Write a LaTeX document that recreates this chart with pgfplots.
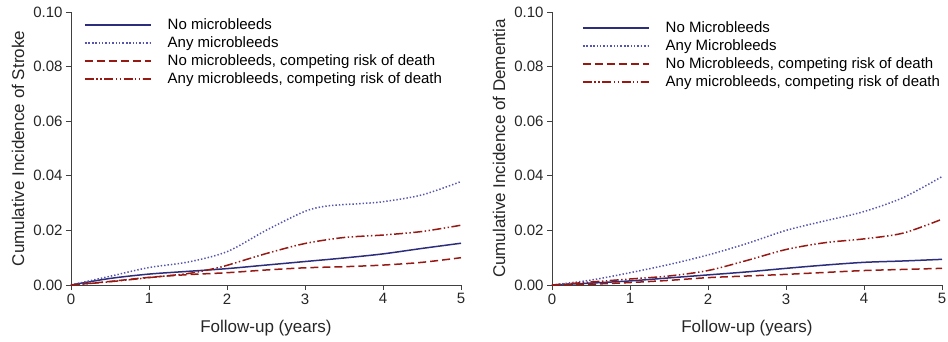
\documentclass[border=0pt]{standalone}
\usepackage{pgfplots}
\pgfplotsset{compat=1.18}
\usepackage{fontspec}
\setmainfont{Liberation Sans}
\definecolor{navy}{RGB}{45,45,125}
\definecolor{lblue}{RGB}{85,85,175}
\definecolor{dred}{RGB}{150,25,20}
\pgfplotsset{
  mystyle/.style={
    scale only axis, width=390pt, height=273pt,
    anchor=south west,
    xmin=0, xmax=5, ymin=0, ymax=0.1,
    axis x line=bottom, axis y line=left,
    axis line style={-, draw=black!75, line width=0.8pt},
    tick style={draw=black!75, line width=0.8pt},
    tick align=outside, major tick length=5pt,
    xtick={0,1,2,3,4,5},
    ytick={0,0.02,0.04,0.06,0.08,0.1},
    yticklabel style={/pgf/number format/fixed, /pgf/number format/fixed zerofill, /pgf/number format/precision=2},
    scaled y ticks=false,
    /pgf/number format/assume math mode=true,
    tick label style={font=\fontsize{15}{18}\selectfont, text=black!85},
    label style={font=\fontsize{17}{20}\selectfont, text=black!85},
    xlabel={Follow-up (years)},
    xlabel style={yshift=-9pt},
    ylabel style={yshift=2pt},
    clip=false,
    legend cell align=left,
    legend style={draw=none, fill=none, font=\fontsize{15}{18}\selectfont, row sep=1.6pt},
    legend image code/.code={\draw[#1] plot coordinates {(0pt,0pt) (33pt,0pt) (66pt,0pt)}; \path (80pt,0pt);},
    every axis plot/.append style={smooth, line width=1.5pt},
  },
  s1/.style={color=navy},
  s2/.style={color=lblue, dash pattern=on 1.4pt off 2pt},
  s3/.style={color=dred, dash pattern=on 8pt off 4pt},
  s4/.style={color=dred, dash pattern=on 9pt off 2.5pt on 1.4pt off 2.5pt on 1.4pt off 2.5pt},
}
\begin{document}
\begin{tikzpicture}
\path[use as bounding box] (0,0) rectangle (948pt,341pt);
\begin{axis}[mystyle, at={(71pt,56pt)},
  ylabel={Cumulative Incidence of Stroke},
  legend style={at={(10pt,270.5pt)}, anchor=north west}]
\addplot[s1] coordinates {(0,0) (0.5,0.0024) (1,0.0040) (1.5,0.0050) (2,0.0060) (2.5,0.0073) (3,0.0086) (3.5,0.0099) (4,0.0114) (4.5,0.0134) (5,0.0153)};
\addlegendentry{No microbleeds}
\addplot[s2] coordinates {(0,0) (0.5,0.0032) (1,0.0064) (1.5,0.0084) (2,0.0122) (2.5,0.0200) (3,0.0270) (3.3,0.0290) (3.7,0.0298) (4,0.0305) (4.5,0.0330) (5,0.0379)};
\addlegendentry{Any microbleeds}
\addplot[s3] coordinates {(0,0) (0.5,0.0013) (1,0.0028) (1.5,0.0038) (2,0.0045) (2.5,0.0055) (3,0.0063) (3.5,0.0067) (4,0.0073) (4.5,0.0083) (5,0.0100)};
\addlegendentry{No microbleeds, competing risk of death}
\addplot[s4] coordinates {(0,0) (0.5,0.0012) (1,0.0027) (1.5,0.0042) (1.8,0.0058) (2,0.0072) (2.5,0.0115) (3,0.0152) (3.5,0.0174) (4,0.0183) (4.5,0.0196) (5,0.0219)};
\addlegendentry{Any microbleeds, competing risk of death}
\end{axis}
\begin{axis}[mystyle, at={(552pt,56pt)},
  ylabel={Cumulative Incidence of Dementia},
  legend style={at={(27pt,267.5pt)}, anchor=north west}]
\addplot[s1] coordinates {(0,0) (0.5,0.0007) (1,0.0015) (1.5,0.0026) (2,0.0037) (2.5,0.0048) (3,0.0061) (3.5,0.0073) (4,0.0083) (4.5,0.0088) (5,0.0094)};
\addlegendentry{No Microbleeds}
\addplot[s2] coordinates {(0,0) (0.5,0.0018) (1,0.0045) (1.5,0.0075) (2,0.0110) (2.5,0.0152) (3,0.0200) (3.5,0.0235) (4,0.0269) (4.5,0.0320) (5,0.0397)};
\addlegendentry{Any Microbleeds}
\addplot[s3] coordinates {(0,0) (0.5,0.0003) (1,0.0009) (1.5,0.0017) (2,0.0027) (2.5,0.0033) (3,0.0039) (3.5,0.0046) (4,0.0053) (4.5,0.0057) (5,0.0061)};
\addlegendentry{No Microbleeds, competing risk of death}
\addplot[s4] coordinates {(0,0) (0.5,0.0011) (1,0.0022) (1.5,0.0033) (2,0.0053) (2.5,0.0090) (3,0.0130) (3.5,0.0155) (4,0.0169) (4.5,0.0190) (5,0.0241)};
\addlegendentry{Any microbleeds, competing risk of death}
\end{axis}
\end{tikzpicture}
\end{document}
